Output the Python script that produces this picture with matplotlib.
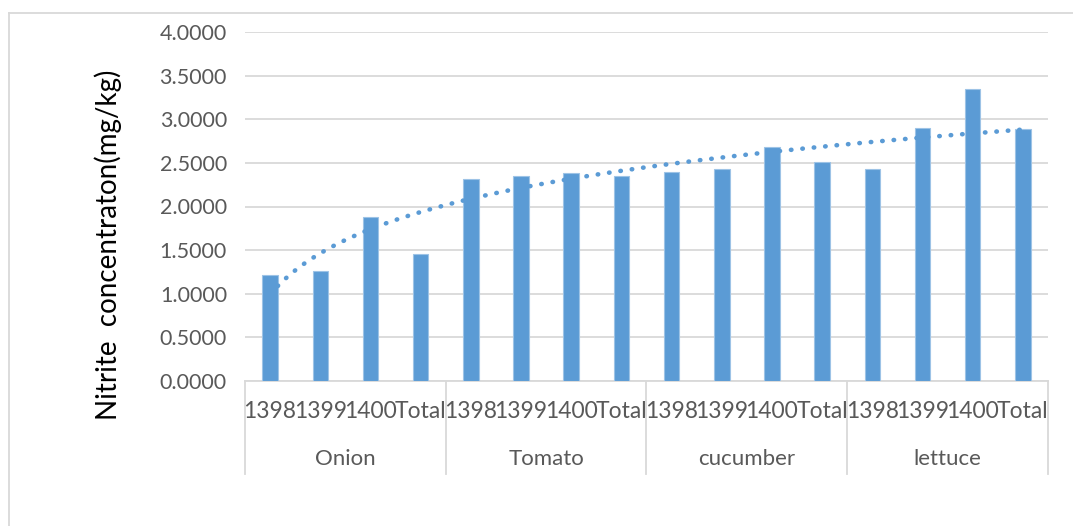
import numpy as np
import matplotlib
matplotlib.use("Agg")
import matplotlib.pyplot as plt
from matplotlib.lines import Line2D
import matplotlib.transforms as mtransforms

# ---- data ----
groups = ["Onion", "Tomato", "cucumber", "lettuce"]
years = ["1398", "1399", "1400", "Total"]
onion = [1.218, 1.257, 1.876, 1.452]
tomato = [2.315, 2.353, 2.380, 2.350]
cucumber = [2.400, 2.426, 2.686, 2.507]
lettuce = [2.426, 2.900, 3.343, 2.888]
yticks = [0.0, 0.5, 1.0, 1.5, 2.0, 2.5, 3.0, 3.5, 4.0]
ylabel = "Nitrite  concentraton(mg/kg)"

values = onion + tomato + cucumber + lettuce
n = len(values)
xpos = np.arange(n)

W, H = 1073, 526
fig = plt.figure(figsize=(W / 100, H / 100), dpi=100)
plt.rcParams['font.family'] = ['Lato', 'DejaVu Sans']
tc = '#595959'
grid_c = '#D9D9D9'
bar_c = '#5B9BD5'

ax = fig.add_axes([245 / W, (H - 381) / H, (1048 - 245) / W, (381 - 32) / H])

ax.bar(xpos, values, width=0.31, color=bar_c, edgecolor='#9DC3E6', linewidth=0.8, zorder=3)

# logarithmic trendline fitted to the data (like Excel)
xx = xpos + 1
b, a = np.polyfit(np.log(xx), values, 1)
xs = np.linspace(1, n, 200)
ax.plot(xs - 1, a + b * np.log(xs), linestyle=(0, (0.1, 2.4)), color=bar_c,
        linewidth=3.3, dash_capstyle='round', zorder=4)

ax.set_xlim(-0.5, n - 0.5)
ax.set_ylim(0, 4.0)
ax.set_yticks(yticks)
ax.set_yticklabels([f"{v:.4f}" for v in yticks], fontsize=15.5, color=tc)
ax.tick_params(axis='y', length=0, pad=13)
ax.set_xticks([])
for s in ['top', 'right', 'left']:
    ax.spines[s].set_visible(False)
ax.spines['bottom'].set_color(grid_c)
ax.spines['bottom'].set_linewidth(1.3)
ax.grid(axis='y', color=grid_c, linewidth=1.3, zorder=0)
ax.set_axisbelow(True)

# multilevel category axis
trans = mtransforms.blended_transform_factory(ax.transData, ax.transAxes)
yr_y = -(412 - 381) / (381 - 32)
gr_y = -(459 - 381) / (381 - 32)
line_bot = -(474 - 381) / (381 - 32)
for i, v in enumerate(values):
    ax.text(xpos[i], yr_y, years[i % len(years)], transform=trans, ha='center',
            va='center', fontsize=16.5, color=tc)
ng = len(years)
for g, name in enumerate(groups):
    ax.text(g * ng + (ng - 1) / 2, gr_y, name, transform=trans, ha='center',
            va='center', fontsize=16, color=tc)
for g in range(len(groups) + 1):
    xb = g * ng - 0.5
    ax.add_line(Line2D([xb, xb], [0, line_bot], transform=trans, color=grid_c,
                       linewidth=1.3, clip_on=False))

fig.text(108 / W, (H - 245) / H, ylabel, rotation=90, ha='center', va='center',
         fontsize=20, color='black')

# chart border (top and left visible)
fig.add_artist(Line2D([8.5 / W, 1.0], [1 - 12.5 / H, 1 - 12.5 / H], transform=fig.transFigure,
                      color=grid_c, linewidth=1.3))
fig.add_artist(Line2D([8.5 / W, 8.5 / W], [0, 1 - 12.5 / H], transform=fig.transFigure,
                      color=grid_c, linewidth=1.3))

fig.savefig("out.png", dpi=100)
